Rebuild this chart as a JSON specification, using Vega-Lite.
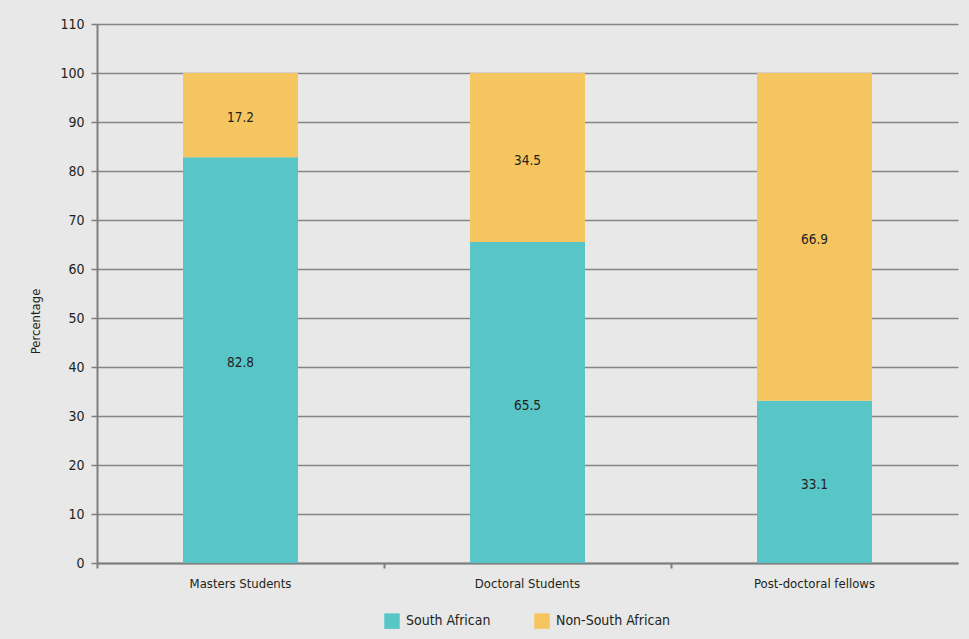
{
  "$schema": "https://vega.github.io/schema/vega-lite/v6.json",
  "width": 861,
  "height": 539,
  "autosize": {"type": "none"},
  "padding": {"left": 97, "top": 24, "right": 11, "bottom": 76},
  "background": "#e7e8e7",
  "data": {
    "values": [
      {"category": "Masters Students", "group": "South African", "value": 82.8},
      {"category": "Masters Students", "group": "Non-South African", "value": 17.2},
      {"category": "Doctoral Students", "group": "South African", "value": 65.5},
      {"category": "Doctoral Students", "group": "Non-South African", "value": 34.5},
      {"category": "Post-doctoral fellows", "group": "South African", "value": 33.1},
      {"category": "Post-doctoral fellows", "group": "Non-South African", "value": 66.9}
    ]
  },
  "encoding": {
    "x": {
      "field": "category",
      "type": "nominal",
      "sort": ["Masters Students", "Doctoral Students", "Post-doctoral fellows"],
      "scale": {"paddingInner": 0, "paddingOuter": 0},
      "axis": {
        "title": null,
        "labelAngle": 0,
        "bandPosition": 0,
        "labelFontSize": 13,
        "labelPadding": 9,
        "tickSize": 5,
        "domainWidth": 2,
        "tickWidth": 2
      }
    },
    "y": {
      "field": "value",
      "type": "quantitative",
      "stack": "zero",
      "scale": {"domain": [0, 110], "nice": false},
      "axis": {
        "title": "Percentage",
        "values": [0, 10, 20, 30, 40, 50, 60, 70, 80, 90, 100, 110],
        "grid": true,
        "gridColor": "#858585",
        "gridWidth": 1.5,
        "labelFontSize": 14,
        "labelPadding": 7,
        "tickSize": 6,
        "tickWidth": 1.5,
        "domainWidth": 2,
        "titleFontSize": 13,
        "titleFontWeight": "normal",
        "titlePadding": 17,
        "titleY": 297
      }
    },
    "order": {"field": "group", "type": "nominal", "sort": "descending"}
  },
  "layer": [
    {
      "mark": {"type": "bar", "size": 115},
      "encoding": {
        "color": {
          "field": "group",
          "type": "nominal",
          "sort": ["South African", "Non-South African"],
          "scale": {"domain": ["South African", "Non-South African"], "range": ["#58c5c7", "#f5c65f"]},
          "legend": {
            "title": null,
            "orient": "bottom",
            "direction": "horizontal",
            "symbolType": "square",
            "symbolSize": 240,
            "symbolStrokeWidth": 0,
            "labelFontSize": 14,
            "labelOffset": 6,
            "columnPadding": 43,
            "offset": 23
          }
        }
      }
    },
    {
      "mark": {"type": "text", "fontSize": 13.5, "color": "#231f20", "dy": 3},
      "encoding": {
        "y": {"field": "value", "type": "quantitative", "stack": "zero", "bandPosition": 0.5},
        "text": {"field": "value", "type": "quantitative", "format": ".1f"}
      }
    }
  ],
  "config": {
    "font": "DejaVu Sans Condensed, Roboto, sans-serif",
    "view": {"stroke": null},
    "axis": {
      "domainColor": "#7f7f7f",
      "tickColor": "#7f7f7f",
      "labelColor": "#231f20",
      "titleColor": "#231f20",
      "labelFont": "DejaVu Sans Condensed, Roboto, sans-serif",
      "titleFont": "DejaVu Sans Condensed, Roboto, sans-serif"
    },
    "legend": {
      "labelColor": "#231f20",
      "labelFont": "DejaVu Sans Condensed, Roboto, sans-serif",
      "layout": {"bottom": {"anchor": "middle"}}
    }
  }
}
